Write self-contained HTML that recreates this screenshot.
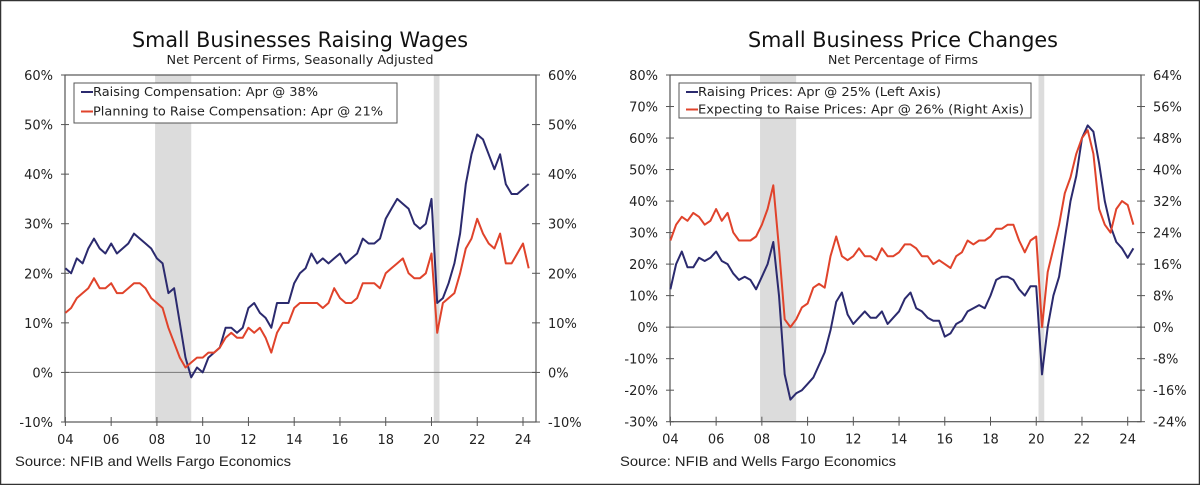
<!DOCTYPE html>
<html><head><meta charset="utf-8"><style>
html,body{margin:0;padding:0;background:#fff;}
svg{display:block;font-family:"DejaVu Sans","Liberation Sans",sans-serif;}
</style></head><body>
<svg id="svg" width="1200" height="485" viewBox="0 0 1200 485">
<rect x="0.5" y="0.5" width="1199" height="484" fill="#fff" stroke="#333" stroke-width="1.5"/>
<g id="c1"></g>
<g id="c2"></g>
</svg>
<script>
// ---- Chart 1 data (quarterly, from 2004 Q1) ----
const wageStart = 2004;
const raisingComp = [21,20,23,22, 25,27,25,24, 26,24,25,26, 28,27,26,25, 23,22,16,17, 10,3,-1,1, 0,3,4,5, 9,9,8,9, 13,14,12,11, 9,14,14,14, 18,20,21,24, 22,23,22,23, 24,22,23,24, 27,26,26,27, 31,33,35,34, 33,30,29,30, 35,14,15,18, 22,28,38,44, 48,47,44,41, 44,38,36,36, 37,38];
const planningComp = [12,13,15,16, 17,19,17,17, 18,16,16,17, 18,18,17,15, 14,13,9,6, 3,1,2,3, 3,4,4,5, 7,8,7,7, 9,8,9,7, 4,8,10,10, 13,14,14,14, 14,13,14,17, 15,14,14,15, 18,18,18,17, 20,21,22,23, 20,19,19,20, 24,8,14,15, 16,20,25,27, 31,28,26,25, 28,22,22,24, 26,21];
const wageTicks = [60,50,40,30,20,10,0,-10];
// ---- Chart 2 data ----
const raisingPrices = [12,20,24,19, 19,22,21,22, 24,21,20,17, 15,16,15,12, 16,20,27,10, -15,-23,-21,-20, -18,-16,-12,-8, -1,8,11,4, 1,3,5,3, 3,5,1,3, 5,9,11,6, 5,3,2,2, -3,-2,1,2, 5,6,7,6, 10,15,16,16, 15,12,10,13, 13,-15,0,10, 16,28,40,48, 60,64,62,52, 40,32,27,25, 22,25];
const expectingPrices = [22,26,28,27, 29,28,26,27, 30,27,29,24, 22,22,22,23, 26,30,36,20, 2,0,2,5, 6,10,11,10, 18,23,18,17, 18,20,18,18, 17,20,18,18, 19,21,21,20, 18,18,16,17, 16,15,18,19, 22,21,22,22, 23,25,25,26, 26,22,19,22, 23,0,14,20, 26,34,38,44, 48,50,44,30, 26,24,30,32, 31,26];
const priceTicksL = [80,70,60,50,40,30,20,10,0,-10,-20,-30];
const priceTicksR = [64,56,48,40,32,24,16,8,0,-8,-16,-24];
const yearLabels = ["04","06","08","10","12","14","16","18","20","22","24"];
const recessions = [[2007.92,2009.5],[2020.1,2020.35]];

const NS="http://www.w3.org/2000/svg";
function el(parent,tag,attrs,text){const e=document.createElementNS(NS,tag);for(const k in attrs)e.setAttribute(k,attrs[k]);if(text!==undefined)e.textContent=text;parent.appendChild(e);return e;}

function drawChart(g,cfg){
  const xs=v=>cfg.x0+(v-2004)/20*(cfg.x24-cfg.x0);
  const ys=v=>cfg.yTop+(cfg.yMax-v)/(cfg.yMax-cfg.yMin)*(cfg.yBot-cfg.yTop);
  const ysR=v=>cfg.yTop+(cfg.rMax-v)/(cfg.rMax-cfg.rMin)*(cfg.yBot-cfg.yTop);
  let t=el(g,'text',{x:cfg.cx,y:47,'text-anchor':'middle','font-size':21,fill:'#111',textLength:cfg.titleLen,lengthAdjust:'spacingAndGlyphs'},cfg.title);
  
  t=el(g,'text',{x:cfg.cx,y:64,'text-anchor':'middle','font-size':12.5,fill:'#222',textLength:cfg.subLen,lengthAdjust:'spacingAndGlyphs'},cfg.subtitle);
  
  recessions.forEach(r=>{const rc=el(g,'rect',{x:xs(r[0]),y:cfg.yTop,width:xs(r[1])-xs(r[0]),height:cfg.yBot-cfg.yTop,fill:'#dcdcdc'});
    });
  const z=el(g,'line',{x1:cfg.axL,x2:cfg.axR,y1:ys(0),y2:ys(0),stroke:'#777','stroke-width':1});
  
  const fr=el(g,'rect',{x:cfg.axL,y:cfg.yTop,width:cfg.axR-cfg.axL,height:cfg.yBot-cfg.yTop,fill:'none',stroke:'#555','stroke-width':1.2});
  
  cfg.ticksL.forEach(v=>{const y=ys(v);
    el(g,'line',{x1:cfg.axL-4,x2:cfg.axL+4,y1:y,y2:y,stroke:'#555'});
    const tl=el(g,'text',{x:cfg.axL-12,y:y+5,'text-anchor':'end','font-size':13,fill:'#222'},v+'%');
    });
  cfg.ticksR.forEach(v=>{const y=ysR(v);
    el(g,'line',{x1:cfg.axR-4,x2:cfg.axR+4,y1:y,y2:y,stroke:'#555'});
    const tl=el(g,'text',{x:cfg.axR+12,y:y+5,'text-anchor':'start','font-size':13,fill:'#222'},v+'%');
    });
  yearLabels.forEach((lab,i)=>{const x=xs(2004+2*i);
    el(g,'line',{x1:x,x2:x,y1:cfg.yBot-5,y2:cfg.yBot+4,stroke:'#555'});
    const tl=el(g,'text',{x:x,y:cfg.yBot+22,'text-anchor':'middle','font-size':13,fill:'#222'},lab);
    });
  cfg.series.forEach(s=>{const sc=s.right?ysR:ys;
    const d=s.data.map((v,i)=>(i?'L':'M')+xs(2004+i/4).toFixed(1)+','+sc(v).toFixed(1)).join('');
    const p=el(g,'path',{d:d,fill:'none',stroke:s.color,'stroke-width':2,'stroke-linejoin':'round'});
    });
  const lg=el(g,'g',{});
  
  el(lg,'rect',{x:cfg.lgX,y:83,width:cfg.lgW,height:cfg.lgH,fill:'#fff',stroke:'#555','stroke-width':1});
  cfg.series.forEach((s,i)=>{const y=96+i*cfg.lgStep;
    el(lg,'line',{x1:cfg.lgX+7,x2:cfg.lgX+19,y1:y-4,y2:y-4,stroke:s.color,'stroke-width':2});
    const tl=el(lg,'text',{x:cfg.lgX+19,y:y,'font-size':12.5,fill:'#222',textLength:s.lgLen,lengthAdjust:'spacingAndGlyphs'},s.label);
    });
  const src=el(g,'text',{x:cfg.srcX,y:466,'font-size':14,fill:'#222',textLength:276,lengthAdjust:'spacingAndGlyphs',style:'font-family:"Liberation Sans",sans-serif'},'Source: NFIB and Wells Fargo Economics');
  
}

drawChart(document.getElementById('c1'),{
  cx:300,title:'Small Businesses Raising Wages',titleLen:336,subtitle:'Net Percent of Firms, Seasonally Adjusted',subLen:267,
  axL:65,axR:536,x0:65.4,x24:523,yTop:75,yBot:422,yMax:60,yMin:-10,rMax:60,rMin:-10,
  ticksL:wageTicks,ticksR:wageTicks,lgX:74,lgW:323,lgH:40,lgStep:19.5,srcX:15,
  series:[{name:'raising-compensation-line',data:raisingComp,color:'#2b2a6e',label:'Raising Compensation: Apr @ 38%',lgLen:225},
          {name:'planning-to-raise-compensation-line',data:planningComp,color:'#e0432b',label:'Planning to Raise Compensation: Apr @ 21%',lgLen:290}]
});
drawChart(document.getElementById('c2'),{
  cx:903,title:'Small Business Price Changes',titleLen:310,subtitle:'Net Percentage of Firms',subLen:150,
  axL:670,axR:1141,x0:670.4,x24:1127.7,yTop:75,yBot:421.7,yMax:80,yMin:-30,rMax:64,rMin:-24,
  ticksL:priceTicksL,ticksR:priceTicksR,lgX:679,lgW:352,lgH:35,lgStep:17.5,srcX:620,
  series:[{name:'raising-prices-line',data:raisingPrices,color:'#2b2a6e',label:'Raising Prices: Apr @ 25% (Left Axis)',lgLen:243},
          {name:'expecting-to-raise-prices-line',data:expectingPrices,color:'#e0432b',right:true,label:'Expecting to Raise Prices: Apr @ 26% (Right Axis)',lgLen:326}]
});
</script>
</body></html>
